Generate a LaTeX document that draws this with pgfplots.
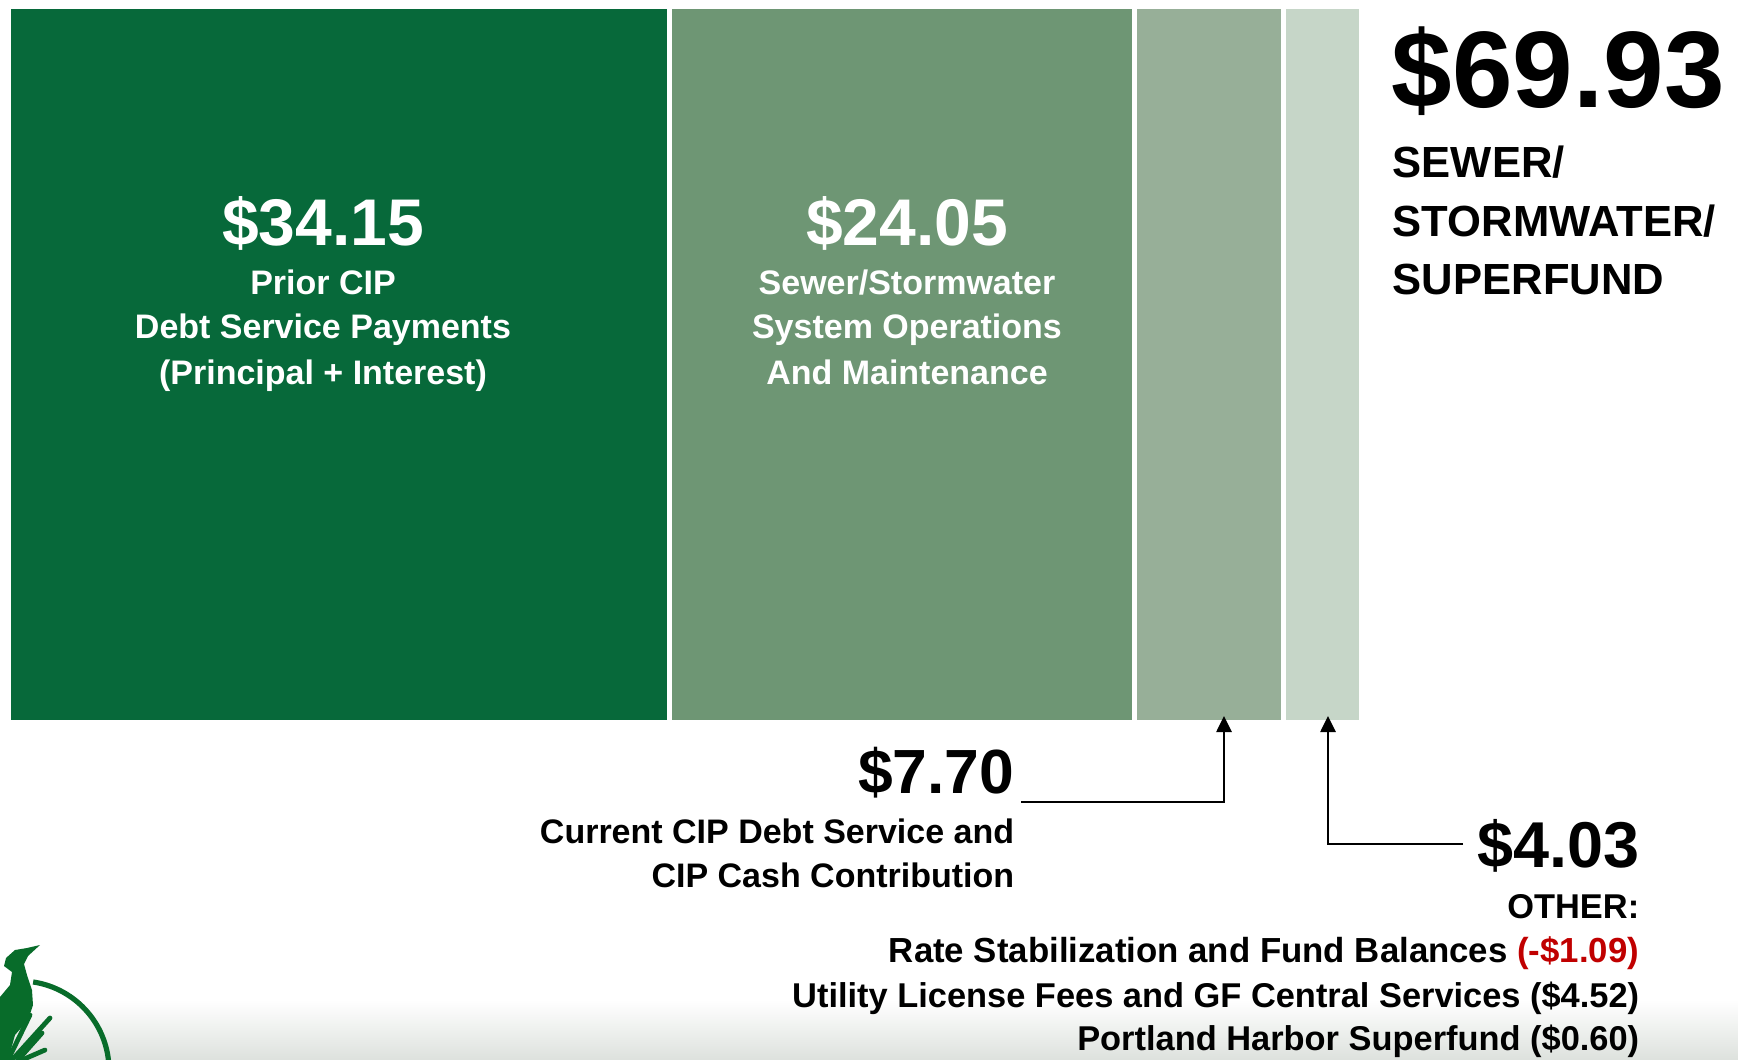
\documentclass[border=0pt]{standalone}
\usepackage{fontspec}
\setmainfont{Liberation Sans}
\usepackage{pgfplots}
\pgfplotsset{compat=1.18}
\usetikzlibrary{arrows.meta}
\definecolor{segA}{RGB}{7,105,58}
\definecolor{segB}{RGB}{110,150,116}
\definecolor{segC}{RGB}{151,175,152}
\definecolor{segD}{RGB}{198,214,200}
\definecolor{negred}{RGB}{192,0,0}
\definecolor{logogreen}{RGB}{8,108,42}
\newcommand{\fs}[1]{\fontsize{#1}{#1}\selectfont\bfseries}

\begin{document}
\begin{tikzpicture}[x=0.25pt,y=-0.25pt]
\useasboundingbox (0,0) rectangle (1738,1060);
\shade[top color=white,bottom color={rgb,255:red,221;green,225;blue,221}] (0,1000) rectangle (1738,1060);

\begin{axis}[at={(2.125pt,-1.625pt)}, anchor=north west, scale only axis,
  width=338.25pt, height=179pt,
  xmin=0, xmax=69.93, ymin=-0.5, ymax=0.5,
  hide axis, xbar stacked, bar width=179pt, clip=false]
\addplot[fill=segA, draw=white, line width=1.25pt] coordinates {(34.15,0)};
\addplot[fill=segB, draw=white, line width=1.25pt] coordinates {(24.05,0)};
\addplot[fill=segC, draw=white, line width=1.25pt] coordinates {(7.70,0)};
\addplot[fill=segD, draw=white, line width=1.25pt] coordinates {(4.03,0)};
\end{axis}

% in-bar labels
\begin{scope}[every node/.style={inner sep=0pt, anchor=base, text=white}]
\node at (323,245) {\fs{16.5}\$34.15};
\node at (323,295) {\fs{8.5}Prior CIP};
\node at (323,339) {\fs{8.5}Debt Service Payments};
\node at (323,384) {\fs{8.5}(Principal + Interest)};
\node at (907,245) {\fs{16.5}\$24.05};
\node at (907,295) {\fs{8.5}Sewer/Stormwater};
\node at (907,339) {\fs{8.5}System Operations};
\node at (907,384) {\fs{8.5}And Maintenance};
\end{scope}

% total
\begin{scope}[every node/.style={inner sep=0pt, anchor=base west}]
\node at (1391,108) {\fs{27.2}\$69.93};
\node at (1392,178) {\fs{10.9}SEWER/};
\node at (1392,237) {\fs{10.9}STORMWATER/};
\node at (1392,295) {\fs{10.9}SUPERFUND};
\end{scope}

% callouts
\draw[line width=0.5pt, -{Triangle[width=3.8pt,length=4pt]}] (1021,802) -- (1224,802) -- (1224,716);
\draw[line width=0.5pt, -{Triangle[width=3.8pt,length=4pt]}] (1463,844) -- (1328,844) -- (1328,716);

\begin{scope}[every node/.style={inner sep=0pt, anchor=base east}]
\node at (1015,793) {\fs{15.6}\$7.70};
\node at (1015,843) {\fs{8.5}Current CIP Debt Service and};
\node at (1015,887) {\fs{8.5}CIP Cash Contribution};
\node at (1640,867) {\fs{16.2}\$4.03};
\node at (1640,918) {\fs{8.6}OTHER:};
\node at (1640,962) {\fs{8.7}Rate Stabilization and Fund Balances \textcolor{negred}{(-\$1.09)}};
\node at (1640,1007) {\fs{8.6}Utility License Fees and GF Central Services (\$4.52)};
\node at (1640,1050) {\fs{8.6}Portland Harbor Superfund (\$0.60)};
\end{scope}

% logo fragment
\draw[logogreen, line width=1.3pt] (20,1070) ++(-81.5:89) arc[start angle=-81.5, end angle=0, radius=89];
\fill[logogreen] (0,1060) -- (0,997) -- (10,985) -- (12,972) -- (4,966) -- (6,958) -- (15,950) -- (27,948) -- (40,945) -- (28,956) -- (24,964) -- (27,975) -- (32,990) -- (33,1005) -- (28,1020) -- (15,1035) -- (8,1060) -- cycle;
\draw[logogreen, line width=1.2pt, line cap=round] (12,1060) -- (50,1018);
\draw[logogreen, line width=1.2pt, line cap=round] (18,1060) -- (42,1033);
\draw[logogreen, line width=1.2pt, line cap=round] (8,1060) -- (30,1015);
\draw[logogreen, line width=1.2pt, line cap=round] (22,1060) -- (45,1050);
\end{tikzpicture}
\end{document}
